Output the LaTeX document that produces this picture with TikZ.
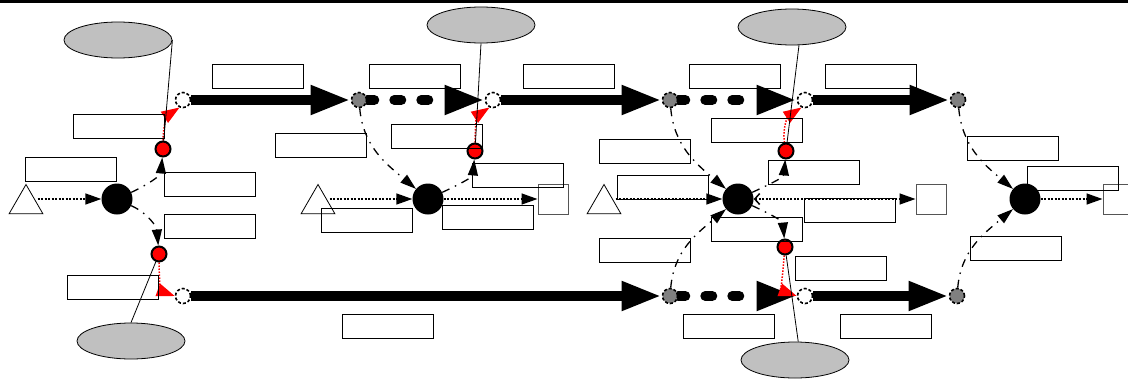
\documentclass[tikz,border=0pt]{standalone}
\usetikzlibrary{arrows.meta,shapes.geometric}
\pgfdeclarelayer{back}
\pgfdeclarelayer{front}
\pgfsetlayers{back,main,front}
\definecolor{noteGray}{RGB}{192,192,192}
\definecolor{portGray}{RGB}{128,128,128}
\definecolor{sinkGray}{RGB}{85,85,85}
\tikzset{
  lbl/.style={draw, line width=1.2pt, minimum width=91pt, minimum height=24pt, inner sep=0pt, anchor=north west},
  note/.style={ellipse, draw, line width=0.8pt, fill=noteGray, minimum width=108pt, minimum height=36pt, inner sep=0pt},
  src/.style={regular polygon, regular polygon sides=3, draw, line width=0.8pt, fill=white, minimum size=39pt, inner sep=0pt},
  sink/.style={rectangle, draw=sinkGray, line width=1pt, fill=white, minimum size=30pt, inner sep=0pt},
  hub/.style={circle, fill=black, minimum size=31pt, inner sep=0pt},
  trig/.style={circle, draw, line width=2pt, fill=red, minimum size=15pt, inner sep=0pt},
  portw/.style={circle, draw, line width=1.6pt, dash pattern=on 3pt off 2pt, fill=white, minimum size=15pt, inner sep=0pt},
  portg/.style={portw, fill=portGray},
  flow/.style={line width=10pt, -{Triangle[length=40pt,width=27pt]}},
  ghost/.style={flow, line cap=round, dash pattern=on 7pt off 20pt},
  feed/.style={line width=1.5pt, dash pattern=on 2pt off 1.5pt, -{Triangle[length=16pt,width=11pt]}},
  ctrl/.style={line width=1.3pt, dash pattern=on 8pt off 6pt on 1.5pt off 6pt, -{Triangle[length=16pt,width=10pt]}},
  fire/.style={red, line width=1.5pt, dash pattern=on 1.5pt off 1.5pt, -{Triangle[length=18pt,width=13pt]}},
  annot/.style={line width=0.8pt},
}
\begin{document}
\begin{tikzpicture}[x=1pt,y=-1pt]
\useasboundingbox (0,0) rectangle (1128,378);
\draw[line width=3pt] (0,1.5) -- (1128,1.5);

% sources, hubs and sinks
\node[src] (t1) at (26,204) {};
\node[src] (t2) at (318,204) {};
\node[src] (t3) at (604,204) {};
\node[hub] (c1) at (117,199) {};
\node[hub] (c2) at (428,199) {};
\node[hub] (c3) at (738,199) {};
\node[hub] (c4) at (1025,199) {};
\node[sink] (s1) at (553,199) {};
\node[sink] (s2) at (931,199) {};
\node[sink] (s3) at (1118,199) {};

% trigger points
\node[trig] (r1) at (163,149) {};
\node[trig] (r2) at (159,254) {};
\node[trig] (r3) at (475,151) {};
\node[trig] (r4) at (786,151) {};
\node[trig] (r5) at (785,247) {};

% ports on the two tracks
\node[portw] (w1) at (183,100) {};
\node[portw] (w2) at (493,100) {};
\node[portw] (w3) at (805,100) {};
\node[portw] (w4) at (805,296) {};
\node[portw] (w5) at (183,296) {};
\node[portg] (g1) at (359,100) {};
\node[portg] (g2) at (670,100) {};
\node[portg] (g3) at (958,100) {};
\node[portg] (g4) at (670,296) {};
\node[portg] (g5) at (957,296) {};

% notes
\node[note] (e1) at (118,40) {};
\node[note] (e2) at (131,341) {};
\node[note] (e3) at (481,25) {};
\node[note] (e4) at (792,27) {};
\node[note] (e5) at (795,360) {};

\begin{pgfonlayer}{back}
  % tracks
  \draw[flow]  (w1) -- (g1);
  \draw[ghost] (g1) -- (w2);
  \draw[flow]  (w2) -- (g2);
  \draw[ghost] (g2) -- (w3);
  \draw[flow]  (w3) -- (g3);
  \draw[flow]  (w5) -- (g4);
  \draw[ghost] (g4) -- (w4);
  \draw[flow]  (w4) -- (g5);
  % feeds
  \draw[feed] (t1.east |- c1) -- (c1);
  \draw[feed] (t2.east |- c2) -- (c2);
  \draw[feed] (c2) -- (s1);
  \draw[feed] (t3.east |- c3) -- (c3);
  \draw[feed, {Straight Barb[length=5pt,width=11pt]}-{Triangle[length=16pt,width=11pt]}] (c3) -- (s2);
  \draw[feed] (c4) -- (s3);
  % control arcs
  \draw[ctrl] (c1) to[out=25,in=-95] (r1);
  \draw[ctrl] (c1) to[out=-25,in=95] (r2);
  \draw[ctrl] (g1) to[out=-85,in=140] (c2);
  \draw[ctrl] (c2) to[out=25,in=-95] (r3);
  \draw[ctrl] (g2) to[out=-85,in=140] (c3);
  \draw[ctrl] (g4) to[out=85,in=-140] (c3);
  \draw[ctrl] (c3) to[out=25,in=-95] (r4);
  \draw[ctrl] (c3) to[out=-25,in=95] (r5);
  \draw[ctrl] (g3) to[out=-85,in=140] (c4);
  \draw[ctrl] (g5) to[out=85,in=-140] (c4);
  % firing links
  \draw[fire] (r1) to[out=90,in=-147] (w1.-115);
  \draw[fire] (r2) to[out=-90,in=160] (w5.west);
  \draw[fire] (r3) to[out=90,in=-147] (w2.-115);
  \draw[fire] (r4) to[out=100,in=-147] (w3.-115);
  \draw[fire] (r5) to[out=-95,in=160] (w4.west);
  % note leaders
  \draw[annot] (e1.east) -- (r1);
  \draw[annot] (e2.north) -- (r2);
  \draw[annot] (e3.south) -- (r3);
  \draw[annot] (e4.-69) -- (r4);
  \draw[annot] (e5.80) -- (r5);
\end{pgfonlayer}

\begin{pgfonlayer}{front}
  \foreach \i/\x/\y in {1/212/64, 2/369/64, 3/523/64, 4/689/64, 5/825/64,
      6/73/114, 7/25/157, 8/164/172, 9/164/214, 10/67/275,
      11/275/133, 12/391/124, 13/472/163, 14/321/208, 15/442/205, 16/342/314,
      17/599/139, 18/617/175, 19/711/118, 20/768/160, 21/599/238, 22/711/217,
      23/804/198, 24/795/256, 25/683/314, 26/840/314,
      27/967/136, 28/1027/166, 29/970/236}
    \node[lbl] (l\i) at (\x,\y) {};
\end{pgfonlayer}
\end{tikzpicture}
\end{document}
